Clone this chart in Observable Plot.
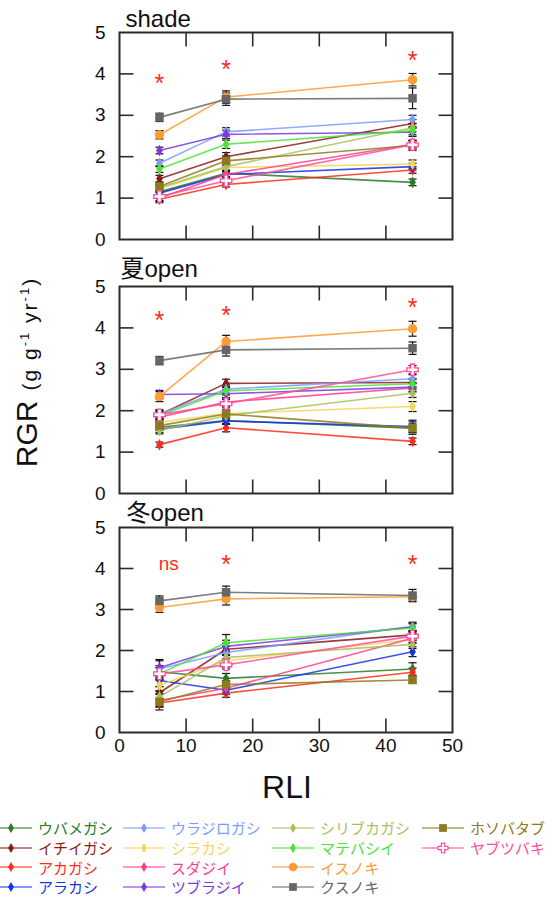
<!DOCTYPE html>
<html>
<head>
<meta charset="utf-8">
<script src="https://cdn.jsdelivr.net/npm/d3@7"></script>
<script src="https://cdn.jsdelivr.net/npm/@observablehq/plot@0.6"></script>
<style>
  html, body { margin: 0; padding: 0; background: #fff; }
  body { font-family: "Liberation Sans", "Noto Sans CJK JP", sans-serif; }
  #root { position: relative; width: 549px; height: 900px; overflow: hidden; }
  .panel { position: absolute; left: 0; }
  #ytitle { position: absolute; left: 27px; top: 372px; transform: translate(-50%, -50%) rotate(-90deg); white-space: nowrap; color: #111; }
  #xtitle { position: absolute; left: 287px; top: 771px; transform: translateX(-50%); font-size: 32px; line-height: 1; color: #111; }
  #legend { position: absolute; left: -10px; top: 818px; display: grid; grid-auto-flow: column;
            grid-template-rows: repeat(4, 19.7px); grid-template-columns: 133px 149px 150px 140px; }
  .item { display: flex; align-items: center; }
  .item span { margin-left: 6px; font-size: 15px; font-family: "Noto Sans CJK JP", sans-serif; line-height: 1; }
</style>
</head>
<body>
<div id="root"></div>
<script>
// ---- data ----
const rli = [6, 16, 44];
const species = ["ウバメガシ","イチイガシ","アカガシ","アラカシ","ウラジロガシ","シラカシ","スダジイ","ツブラジイ","シリブカガシ","マテバシイ","イスノキ","クスノキ","ホソバタブ","ヤブツバキ"];
const colors = ["#2a7a2a","#8b1a1a","#ff2a1a","#1533e6","#7d9cff","#f4d45a","#ff3c8c","#7b3ae0","#a9c05a","#4de03a","#ff9b33","#666666","#8c7a1e","#ff4c96"];
const markers = ["diamond","diamond","diamond","diamond","diamond","diamond","diamond","diamond","diamond","diamond","circle","square","square","cross"];

const shadeRGR = [
  [1.15, 1.60, 1.38], [1.47, 2.00, 2.80], [0.97, 1.33, 1.68], [1.12, 1.57, 1.76],
  [1.84, 2.60, 2.90], [1.22, 1.74, 1.82], [1.00, 1.57, 2.30], [2.15, 2.54, 2.59],
  [1.25, 1.76, 2.70], [1.70, 2.30, 2.63], [2.53, 3.44, 3.86], [2.95, 3.39, 3.41],
  [1.28, 1.90, 2.27], [1.04, 1.42, 2.29]
];
const shadeErr = [
  [0.08,0.08,0.08],[0.08,0.10,0.10],[0.08,0.06,0.08],[0.06,0.06,0.08],
  [0.08,0.10,0.10],[0.08,0.08,0.10],[0.08,0.08,0.10],[0.08,0.10,0.10],
  [0.08,0.10,0.10],[0.08,0.10,0.10],[0.10,0.15,0.15],[0.10,0.15,0.25],
  [0.10,0.12,0.12],[0.10,0.08,0.10]
];
const summerRGR = [
  [1.60, 1.76, 1.58], [1.90, 2.66, 2.68], [1.18, 1.59, 1.26], [1.55, 1.75, 1.62],
  [1.92, 2.52, 2.77], [1.72, 1.93, 2.10], [1.84, 2.21, 2.55], [2.39, 2.41, 2.57],
  [1.52, 1.88, 2.42], [1.88, 2.48, 2.65], [2.34, 3.67, 3.98], [3.21, 3.47, 3.51],
  [1.64, 1.92, 1.58], [1.90, 2.17, 2.99]
];
const summerErr = [
  [0.08,0.08,0.10],[0.10,0.10,0.10],[0.06,0.10,0.08],[0.08,0.08,0.15],
  [0.10,0.10,0.10],[0.10,0.08,0.12],[0.10,0.10,0.10],[0.10,0.10,0.10],
  [0.08,0.10,0.10],[0.10,0.10,0.10],[0.12,0.15,0.18],[0.10,0.15,0.15],
  [0.10,0.10,0.15],[0.12,0.10,0.10]
];
const winterRGR = [
  [1.48, 1.32, 1.55], [0.97, 2.03, 2.38], [0.72, 0.96, 1.47], [1.27, 1.03, 1.97],
  [1.55, 1.95, 2.59], [1.15, 1.75, 2.27], [0.78, 1.08, 2.30], [1.58, 2.10, 2.57],
  [0.87, 1.83, 2.15], [1.43, 2.19, 2.55], [3.05, 3.26, 3.31], [3.21, 3.42, 3.34],
  [0.75, 1.17, 1.28], [1.43, 1.65, 2.35]
];
const winterErr = [
  [0.15,0.12,0.15],[0.15,0.15,0.10],[0.10,0.10,0.10],[0.15,0.10,0.12],
  [0.20,0.15,0.10],[0.15,0.15,0.10],[0.15,0.10,0.10],[0.20,0.15,0.10],
  [0.15,0.15,0.10],[0.15,0.20,0.10],[0.12,0.15,0.10],[0.12,0.15,0.15],
  [0.20,0.10,0.08],[0.15,0.10,0.10]
];

const titles = ["shade", "夏open", "冬open"];
const shadeSigX = [6, 16, 44],  shadeSigY = [3.90, 4.25, 4.45],  shadeSigText = ["*","*","*"];
const summerSigX = [6, 16, 44], summerSigY = [4.30, 4.44, 4.62], summerSigText = ["*","*","*"];
const winterSigX = [7.4, 16, 44], winterSigY = [4.12, 4.24, 4.24], winterSigText = ["ns","*","*"];

const yTicks = [0, 1, 2, 3, 4, 5];
const xTicks = [0, 10, 20, 30, 40, 50];
const yInner = [1, 2, 3, 4];
const xInner = [10, 20, 30, 40];

// ---- drawing ----
const root = document.getElementById("root");
const INK = "#2b2b2b";
const tickSym = (dx, dy) => ({draw(ctx) { ctx.moveTo(0, 0); ctx.lineTo(dx, dy); }});
const capSym = {draw(ctx) { ctx.moveTo(-4, 0); ctx.lineTo(4, 0); }};
const intFmt = d => String(d);

function makePanel(cfg) {
  const rows = species.flatMap((s, i) => rli.map((x, j) => ({
    species: s, x, y: cfg.values[i][j], e: cfg.errs[i][j], color: colors[i], marker: markers[i]
  })));
  const sig = cfg.sigX.map((x, k) => ({x, y: cfg.sigY[k], t: cfg.sigText[k]}));
  const tickStyle = {stroke: INK, strokeWidth: 1.6, fill: "none"};
  const marks = [
    Plot.ruleX(rows, {x: "x", y1: d => d.y - d.e, y2: d => d.y + d.e, stroke: "#111", strokeWidth: 1.2}),
    Plot.dot(rows, {x: "x", y: d => d.y - d.e, symbol: capSym, stroke: "#111", strokeWidth: 1.2, fill: "none"}),
    Plot.dot(rows, {x: "x", y: d => d.y + d.e, symbol: capSym, stroke: "#111", strokeWidth: 1.2, fill: "none"}),
    Plot.line(rows, {x: "x", y: "y", z: "species", stroke: "color", strokeWidth: 1.6, strokeOpacity: 0.85}),
    Plot.dot(rows.filter(d => d.marker === "diamond"), {x: "x", y: "y", symbol: "diamond", r: 3.5, fill: "color"}),
    Plot.dot(rows.filter(d => d.marker === "circle"), {x: "x", y: "y", symbol: "circle", r: 4.7, fill: "color"}),
    Plot.dot(rows.filter(d => d.marker === "square"), {x: "x", y: "y", symbol: "square", r: 4.8, fill: "color"}),
    Plot.dot(rows.filter(d => d.marker === "cross"), {x: "x", y: "y", symbol: "cross", r: 4.8, fill: "white", stroke: "color", strokeWidth: 1.3}),
    Plot.text(sig.filter(d => d.t === "*"), {x: "x", y: "y", text: "t", fill: "#ff2a1a", fontSize: 25, dy: 6}),
    Plot.text(sig.filter(d => d.t !== "*"), {x: "x", y: "y", text: "t", fill: "#ff2a1a", fontSize: 19}),
    Plot.frame({stroke: INK, strokeWidth: 2}),
    Plot.dot(yInner, {y: d => d, frameAnchor: "left", symbol: tickSym(14, 0), ...tickStyle}),
    Plot.dot(yInner, {y: d => d, frameAnchor: "right", symbol: tickSym(-14, 0), ...tickStyle}),
    Plot.dot(xInner, {x: d => d, frameAnchor: "top", symbol: tickSym(0, 14), ...tickStyle}),
    Plot.dot(xInner, {x: d => d, frameAnchor: "bottom", symbol: tickSym(0, -14), ...tickStyle}),
    Plot.axisY({ticks: yTicks, tickFormat: intFmt, tickSize: 0, tickPadding: 14, fontSize: 19, label: null, fill: "#111"}),
    Plot.text([cfg.title], {frameAnchor: "top-left", text: d => d, textAnchor: "start", lineAnchor: "bottom",
      dx: cfg.titleDx, dy: cfg.titleDy, fontSize: 24, fill: "#111",
      fontFamily: "'Liberation Sans', 'Noto Sans CJK JP', sans-serif"})
  ];
  if (cfg.xAxis) {
    marks.push(Plot.axisX({ticks: xTicks, tickFormat: intFmt, tickSize: 0, tickPadding: 6, fontSize: 19, label: null, fill: "#111"}));
  }
  const svg = Plot.plot({
    width: 549,
    height: cfg.height,
    marginLeft: 119,
    marginRight: 97,
    marginTop: cfg.mt,
    marginBottom: cfg.mb,
    x: {domain: [0, 50], axis: null},
    y: {domain: [0, 5], axis: null},
    style: {fontFamily: "'Liberation Sans', sans-serif", background: "transparent", overflow: "visible", color: "#111"},
    marks
  });
  svg.classList.add("panel");
  svg.style.top = cfg.top + "px";
  root.appendChild(svg);
}

makePanel({title: titles[0], values: shadeRGR, errs: shadeErr, sigX: shadeSigX, sigY: shadeSigY, sigText: shadeSigText,
  top: 0, height: 250, mt: 32, mb: 11, titleDx: 6, titleDy: -6, xAxis: false});
makePanel({title: titles[1], values: summerRGR, errs: summerErr, sigX: summerSigX, sigY: summerSigY, sigText: summerSigText,
  top: 250, height: 250, mt: 36, mb: 7, titleDx: 1, titleDy: -10, xAxis: false});
makePanel({title: titles[2], values: winterRGR, errs: winterErr, sigX: winterSigX, sigY: winterSigY, sigText: winterSigText,
  top: 490, height: 280, mt: 37, mb: 38, titleDx: 7, titleDy: -7, xAxis: true});

// axis titles
const yt = document.createElement("div");
yt.id = "ytitle";
yt.innerHTML = '<span style="font-size:30px">RGR</span><span style="font-size:21px; letter-spacing:2px; margin-left:10px">(g g<sup style="font-size:13px">-1</sup> yr<sup style="font-size:13px">-1</sup>)</span>';
root.appendChild(yt);
const xt = document.createElement("div");
xt.id = "xtitle";
xt.textContent = "RLI";
root.appendChild(xt);

// legend
const legend = document.createElement("div");
legend.id = "legend";
const legendSize = {diamond: 30, circle: 60, square: 60, cross: 55};
species.forEach((s, i) => {
  const item = document.createElement("div");
  item.className = "item";
  const sym = {diamond: d3.symbolDiamond, circle: d3.symbolCircle, square: d3.symbolSquare, cross: d3.symbolCross}[markers[i]];
  const path = d3.symbol().type(sym).size(legendSize[markers[i]])();
  const isCross = markers[i] === "cross";
  item.innerHTML = `<svg width="42" height="14" style="display:block">
    <line x1="0" x2="42" y1="7" y2="7" stroke="${colors[i]}" stroke-width="1.6" stroke-opacity="0.7"/>
    <path transform="translate(21,7)" d="${path}" fill="${isCross ? "white" : colors[i]}" stroke="${isCross ? colors[i] : "none"}" stroke-width="1.2"/>
  </svg><span style="color:${colors[i]}">${s}</span>`;
  legend.appendChild(item);
});
root.appendChild(legend);
</script>
</body>
</html>
